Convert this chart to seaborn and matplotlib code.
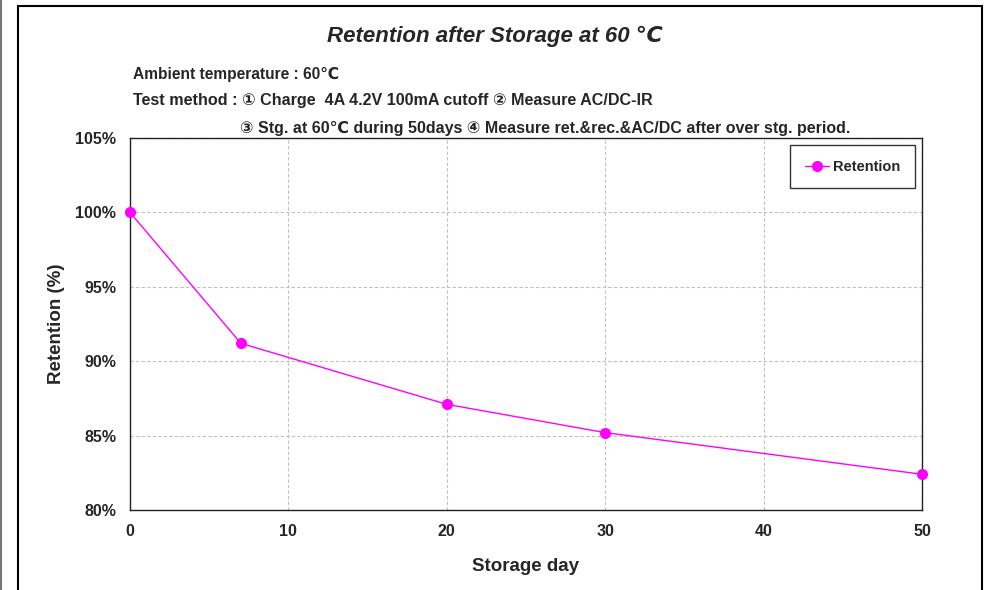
import numpy as np
import pandas as pd
import matplotlib
matplotlib.use("Agg")
import matplotlib.pyplot as plt
from matplotlib.patches import Rectangle
from matplotlib.lines import Line2D
import seaborn as sns

# data
storage_day = [0, 7, 20, 30, 50]
retention = [100.0, 91.2, 87.1, 85.2, 82.4]
x_ticks = [0, 10, 20, 30, 40, 50]
y_ticks = [80, 85, 90, 95, 100, 105]
y_tick_labels = ["80%", "85%", "90%", "95%", "100%", "105%"]

df = pd.DataFrame({"Storage day": storage_day, "Retention": retention})

sns.set_style("white")
fonts = ["Liberation Sans", "DejaVu Sans"]
plt.rcParams["font.family"] = fonts

fig = plt.figure(figsize=(9.84, 5.9), dpi=100)
ax = fig.add_axes([130 / 984, 1 - 510 / 590, 792 / 984, 372 / 590])

sns.lineplot(data=df, x="Storage day", y="Retention", ax=ax, color="#FF00FF",
             linewidth=1.0, marker="o", markersize=8, markeredgewidth=0,
             label="Retention", clip_on=False, zorder=5)

ax.set_xlim(0, 50)
ax.set_ylim(80, 105)
ax.set_xticks(x_ticks)
ax.set_yticks(y_ticks)
ax.set_yticklabels(y_tick_labels)
ax.tick_params(axis="both", direction="in", length=4, width=0.8, labelsize=11.5, color="#333333")
ax.tick_params(axis="x", pad=10)
ax.tick_params(axis="y", pad=10)
for lab in ax.get_xticklabels() + ax.get_yticklabels():
    lab.set_fontweight("bold")
ax.grid(True, color="#c0c0c0", linestyle=(0, (3, 2)), linewidth=0.8)
for s in ax.spines.values():
    s.set_color("#222222")
    s.set_linewidth(1.0)

ax.set_xlabel("Storage day", fontsize=13.5, fontweight="bold", labelpad=14)
ax.set_ylabel("Retention (%)", fontsize=13.5, fontweight="bold", labelpad=7)

leg = ax.legend(loc="upper right", frameon=True, fancybox=False,
                prop={"size": 10.5, "weight": "bold"},
                borderpad=1.0, handlelength=1.7, handletextpad=0.25,
                borderaxespad=0, bbox_to_anchor=(0.991, 0.981))
leg.get_frame().set_edgecolor("black")
leg.get_frame().set_linewidth(1.0)

# outer chart frame
fig.patches.append(Rectangle((18 / 984, -0.05), 964 / 984, 1.05 - 6 / 590,
                             transform=fig.transFigure, fill=False,
                             edgecolor="black", linewidth=1.5))
fig.lines.append(Line2D([1 / 984, 1 / 984], [0, 1], transform=fig.transFigure,
                        color="#777777", linewidth=1.5))

fig.text(495 / 984, 1 - 36 / 590, "Retention after Storage at 60 ℃",
         ha="center", va="center", fontsize=16, fontweight="bold", fontstyle="italic")
fig.text(133 / 984, 1 - 74 / 590, "Ambient temperature : 60℃",
         ha="left", va="center", fontsize=11.2, fontweight="bold")
fig.text(133 / 984, 1 - 100 / 590, "Test method : ① Charge  4A 4.2V 100mA cutoff ② Measure AC/DC-IR",
         ha="left", va="center", fontsize=11.6, fontweight="bold")
fig.text(240 / 984, 1 - 128 / 590, "③ Stg. at 60℃ during 50days ④ Measure ret.&rec.&AC/DC after over stg. period.",
         ha="left", va="center", fontsize=11.5, fontweight="bold")

fig.savefig("out.png", dpi=100)
